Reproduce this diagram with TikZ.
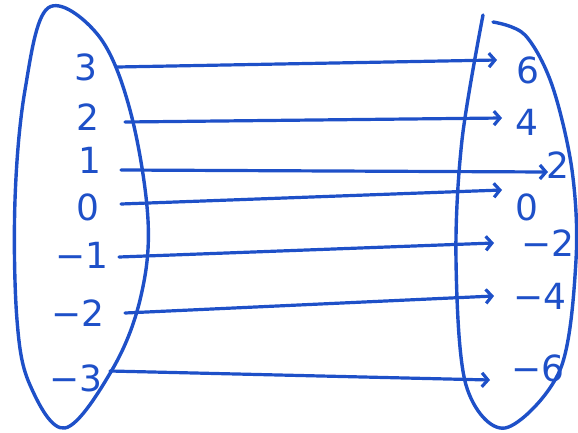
\documentclass[tikz,border=0pt]{standalone}
\usepackage{fontspec}
\setmainfont{DejaVu Sans}
\usetikzlibrary{arrows.meta}
\definecolor{pen}{RGB}{30,80,200}
\tikzset{
  pen/.style={draw=pen, line width=3.4pt, line cap=round, line join=round},
  lab/.style={text=pen, font=\fontsize{36}{36}\selectfont, inner sep=0pt},
  maparrow/.style={pen, line width=3.2pt, -{Straight Barb[length=6pt,width=14pt]}}
}
\begin{document}
\begin{tikzpicture}[x=1pt,y=-1pt]
\useasboundingbox (0,0) rectangle (578,432);
% left set
\draw[pen] plot[smooth cycle, tension=0.6] coordinates {(48,8) (98,35) (130,110) (148,220) (140,300) (112,370) (65,428) (30,385) (17,320) (15,200) (25,90)};
% right set
\draw[pen] plot[smooth, tension=0.55] coordinates {(493,22) (525,35) (552,85) (572,170) (576,260) (560,370) (505,428) (466,385) (456,260) (462,140) (483,15)};
% left labels
\node[lab] (a3) at (86,67) {3};
\node[lab] (a2) at (88,117) {2};
\node[lab] (a1) at (90,160) {1};
\node[lab] (a0) at (88,207) {0};
\node[lab] (am1) at (82,255) {−1};
\node[lab] (am2) at (78,313) {−2};
\node[lab] (am3) at (76,378) {−3};
% right labels
\node[lab] (b6) at (528,70) {6};
\node[lab] (b4) at (527,122) {4};
\node[lab] (b2) at (558,165) {2};
\node[lab] (b0) at (527,207) {0};
\node[lab] (bm2) at (548,243) {−2};
\node[lab] (bm4) at (540,296) {−4};
\node[lab] (bm6) at (538,368) {−6};
% arrow end points
\coordinate (s3) at (117,67);  \coordinate (t3) at (497,60);
\coordinate (s2) at (125,122); \coordinate (t2) at (502,118);
\coordinate (s1) at (121,170); \coordinate (t1) at (548,172);
\coordinate (s0) at (121,204); \coordinate (t0) at (502,190);
\coordinate (sm1) at (119,257); \coordinate (tm1) at (494,243);
\coordinate (sm2) at (125,313); \coordinate (tm2) at (494,296);
\coordinate (sm3) at (110,371); \coordinate (tm3) at (490,380);
\draw[maparrow] (s3) -- (t3);
\draw[maparrow] (s2) -- (t2);
\draw[maparrow] (s1) -- (t1);
\draw[maparrow] (s0) -- (t0);
\draw[maparrow] (sm1) -- (tm1);
\draw[maparrow] (sm2) -- (tm2);
\draw[maparrow] (sm3) -- (tm3);
\end{tikzpicture}
\end{document}
